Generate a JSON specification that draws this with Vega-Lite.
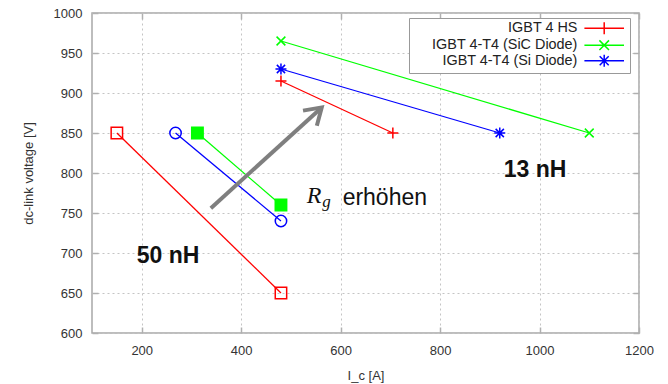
{
  "$schema": "https://vega.github.io/schema/vega-lite/v6.json",
  "width": 547,
  "height": 320,
  "autosize": {"type": "none"},
  "padding": {"left": 92, "top": 13, "right": 29, "bottom": 51},
  "background": "white",
  "config": {
    "view": {"stroke": "#a8a8a8", "strokeWidth": 1.5},
    "axis": {
      "labelFont": "Liberation Sans", "labelFontSize": 13, "labelColor": "#333333",
      "titleFont": "Liberation Sans", "titleFontSize": 13, "titleFontWeight": "normal", "titleColor": "#333333",
      "domain": false, "gridColor": "#c4c4c4", "gridDash": [2, 3], "gridWidth": 1,
      "tickColor": "#b0b0b0", "tickSize": -6, "tickWidth": 1.5, "format": "d"
    }
  },
  "datasets": {
    "pts": [
      {"series": "IGBT 4 HS", "L": "13 nH", "Ic": 480, "V": 915},
      {"series": "IGBT 4 HS", "L": "13 nH", "Ic": 705, "V": 850},
      {"series": "IGBT 4-T4 (SiC Diode)", "L": "13 nH", "Ic": 480, "V": 965},
      {"series": "IGBT 4-T4 (SiC Diode)", "L": "13 nH", "Ic": 1100, "V": 850},
      {"series": "IGBT 4-T4 (Si Diode)", "L": "13 nH", "Ic": 480, "V": 930},
      {"series": "IGBT 4-T4 (Si Diode)", "L": "13 nH", "Ic": 920, "V": 850},
      {"series": "IGBT 4 HS", "L": "50 nH", "Ic": 150, "V": 850},
      {"series": "IGBT 4 HS", "L": "50 nH", "Ic": 480, "V": 650},
      {"series": "IGBT 4-T4 (SiC Diode)", "L": "50 nH", "Ic": 312, "V": 850},
      {"series": "IGBT 4-T4 (SiC Diode)", "L": "50 nH", "Ic": 480, "V": 760},
      {"series": "IGBT 4-T4 (Si Diode)", "L": "50 nH", "Ic": 268, "V": 850},
      {"series": "IGBT 4-T4 (Si Diode)", "L": "50 nH", "Ic": 480, "V": 740}
    ],
    "notes": [
      {"label": "13 nH", "Ic": 928, "V": 795},
      {"label": "50 nH", "Ic": 190, "V": 688},
      {"label": "R", "Ic": 532, "V": 762},
      {"label": "g", "Ic": 563, "V": 757},
      {"label": "erhöhen", "Ic": 604, "V": 760}
    ],
    "arrow": [
      {"Ic": 339, "V": 756, "Ic2": 562, "V2": 882}
    ]
  },
  "layer": [
    {
      "data": {"name": "pts"},
      "mark": {"type": "line", "strokeWidth": 1.3},
      "encoding": {
        "x": {"field": "Ic", "type": "quantitative", "scale": {"domain": [100, 1200], "nice": false, "zero": false},
              "axis": {"title": "I_c [A]", "values": [200, 400, 600, 800, 1000, 1200], "labelOverlap": false, "labelFlush": false, "labelPadding": 17, "titlePadding": 12}},
        "y": {"field": "V", "type": "quantitative", "scale": {"domain": [600, 1000], "nice": false, "zero": false},
              "axis": {"title": "dc-link voltage [V]", "values": [600, 650, 700, 750, 800, 850, 900, 950, 1000], "labelOverlap": false, "labelFlush": false, "labelPadding": 16, "titlePadding": 18}},
        "color": {"field": "series", "type": "nominal",
          "scale": {"domain": ["IGBT 4 HS", "IGBT 4-T4 (SiC Diode)", "IGBT 4-T4 (Si Diode)"], "range": ["#ff0000", "#00ff00", "#0000ff"]},
          "legend": {
            "title": null, "orient": "none", "legendX": 317, "legendY": 5,
            "labelFont": "Liberation Sans", "labelFontSize": 14.4, "labelColor": "#222222",
            "labelAlign": "right", "labelOffset": -34, "symbolOffset": 185,
            "symbolSize": 144, "symbolStrokeWidth": 1.5, "symbolType": "stroke",
            "padding": 3, "rowPadding": -1.5, "strokeColor": "#999999", "fillColor": "white",
            "encode": {"symbols": {"update": {
              "shape": {"signal": "datum.value === 'IGBT 4 HS' ? 'M -3.3 0 L 3.3 0 M 0 -1 L 0 1' : datum.value === 'IGBT 4-T4 (SiC Diode)' ? 'M -3.3 0 L 3.3 0 M -0.8 -0.8 L 0.8 0.8 M -0.8 0.8 L 0.8 -0.8' : 'M -3.3 0 L 3.3 0 M 0 -1 L 0 1 M -0.75 -0.75 L 0.75 0.75 M -0.75 0.75 L 0.75 -0.75'"},
              "fill": {"value": "transparent"}
            }}}
          }},
        "detail": {"field": "L"}
      }
    },
    {
      "data": {"name": "pts"},
      "transform": [{"filter": "datum.L === '13 nH'"}],
      "mark": {"type": "point", "filled": false, "strokeWidth": 1.5, "size": 121, "opacity": 1},
      "encoding": {
        "x": {"field": "Ic", "type": "quantitative", "axis": null},
        "y": {"field": "V", "type": "quantitative", "axis": null},
        "color": {"field": "series", "type": "nominal", "legend": null},
        "shape": {"condition": [
          {"test": "datum.series === 'IGBT 4 HS'", "value": "M -1 0 L 1 0 M 0 -1 L 0 1"},
          {"test": "datum.series === 'IGBT 4-T4 (SiC Diode)'", "value": "M -0.8 -0.8 L 0.8 0.8 M -0.8 0.8 L 0.8 -0.8"}
        ], "value": "M -1 0 L 1 0 M 0 -1 L 0 1 M -0.75 -0.75 L 0.75 0.75 M -0.75 0.75 L 0.75 -0.75"}
      }
    },
    {
      "data": {"name": "pts"},
      "transform": [{"filter": "datum.L === '50 nH'"}],
      "mark": {"type": "point", "filled": false, "strokeWidth": 1.5, "size": 130, "opacity": 1},
      "encoding": {
        "x": {"field": "Ic", "type": "quantitative", "axis": null},
        "y": {"field": "V", "type": "quantitative", "axis": null},
        "color": {"field": "series", "type": "nominal", "legend": null},
        "shape": {"condition": {"test": "datum.series === 'IGBT 4-T4 (Si Diode)'", "value": "circle"}, "value": "square"},
        "fill": {"condition": {"test": "datum.series === 'IGBT 4-T4 (SiC Diode)'", "value": "#00ff00"}, "value": "transparent"}
      }
    },
    {
      "data": {"name": "arrow"},
      "mark": {"type": "rule", "color": "#7f7f7f", "strokeWidth": 4, "strokeCap": "butt"},
      "encoding": {
        "x": {"field": "Ic", "type": "quantitative", "axis": {"orient": "top", "labels": false, "grid": false, "title": null, "values": [200, 400, 600, 800, 1000, 1200]}},
        "y": {"field": "V", "type": "quantitative", "axis": {"orient": "right", "labels": false, "grid": false, "title": null, "values": [600, 650, 700, 750, 800, 850, 900, 950, 1000]}},
        "x2": {"field": "Ic2"},
        "y2": {"field": "V2"}
      }
    },
    {
      "data": {"name": "arrow"},
      "mark": {"type": "point", "filled": false, "color": "#7f7f7f", "strokeWidth": 4, "size": 1024, "opacity": 1, "angle": 47.6, "shape": "M -0.64 1 L 0 0 L 0.64 1", "strokeJoin": "miter"},
      "encoding": {
        "x": {"field": "Ic2", "type": "quantitative", "axis": null},
        "y": {"field": "V2", "type": "quantitative", "axis": null}
      }
    },
    {
      "data": {"name": "notes"},
      "transform": [{"filter": "datum.label === '13 nH' || datum.label === '50 nH'"}],
      "mark": {"type": "text", "font": "Liberation Sans", "fontSize": 23, "fontWeight": "bold", "align": "left", "baseline": "alphabetic", "color": "#111111"},
      "encoding": {
        "x": {"field": "Ic", "type": "quantitative", "axis": null},
        "y": {"field": "V", "type": "quantitative", "axis": null},
        "text": {"field": "label"}
      }
    },
    {
      "data": {"name": "notes"},
      "transform": [{"filter": "datum.label === 'R'"}],
      "mark": {"type": "text", "font": "Liberation Serif", "fontSize": 24, "fontStyle": "italic", "align": "left", "baseline": "alphabetic", "color": "#111111"},
      "encoding": {
        "x": {"field": "Ic", "type": "quantitative", "axis": null},
        "y": {"field": "V", "type": "quantitative", "axis": null},
        "text": {"field": "label"}
      }
    },
    {
      "data": {"name": "notes"},
      "transform": [{"filter": "datum.label === 'g'"}],
      "mark": {"type": "text", "font": "Liberation Serif", "fontSize": 17, "fontStyle": "italic", "align": "left", "baseline": "alphabetic", "color": "#111111"},
      "encoding": {
        "x": {"field": "Ic", "type": "quantitative", "axis": null},
        "y": {"field": "V", "type": "quantitative", "axis": null},
        "text": {"field": "label"}
      }
    },
    {
      "data": {"name": "notes"},
      "transform": [{"filter": "datum.label === 'erhöhen'"}],
      "mark": {"type": "text", "font": "Liberation Sans", "fontSize": 23, "align": "left", "baseline": "alphabetic", "color": "#111111"},
      "encoding": {
        "x": {"field": "Ic", "type": "quantitative", "axis": null},
        "y": {"field": "V", "type": "quantitative", "axis": null},
        "text": {"field": "label"}
      }
    }
  ],
  "resolve": {"axis": {"x": "independent", "y": "independent"}}
}
